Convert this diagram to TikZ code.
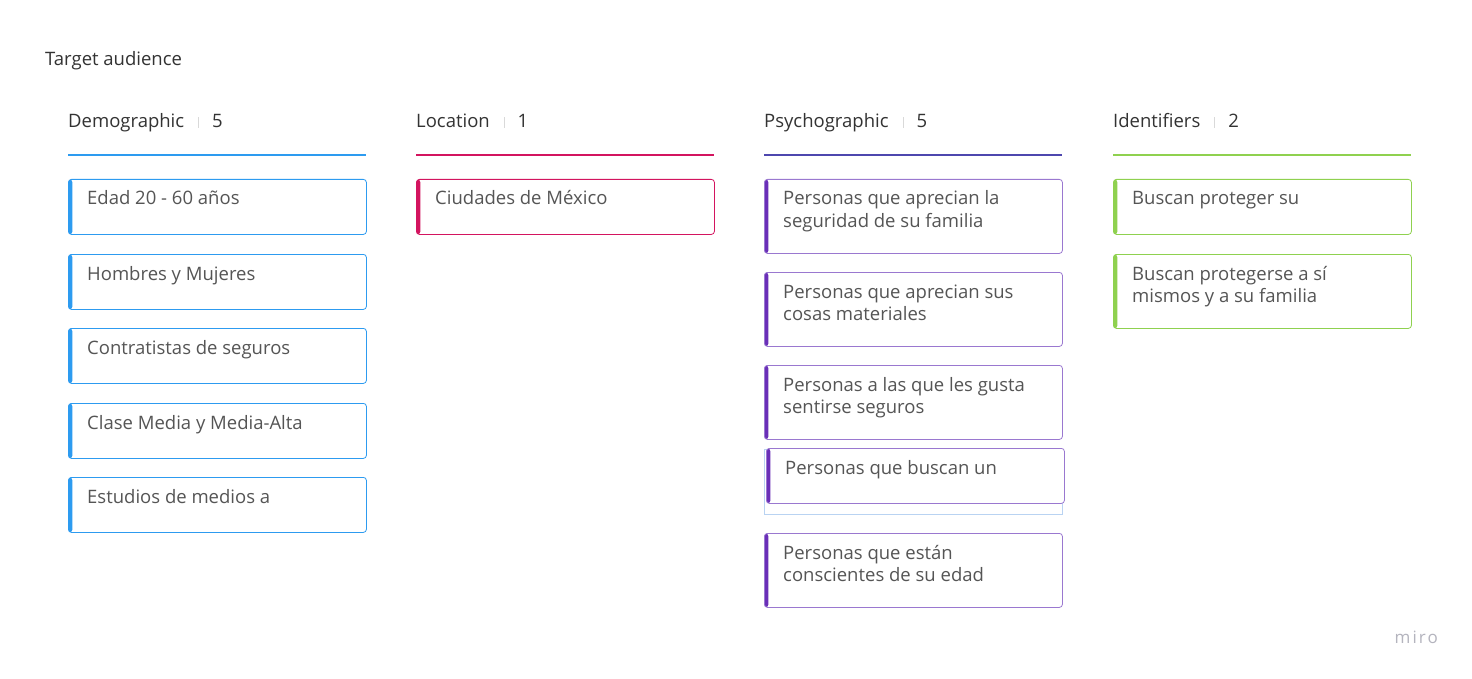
\documentclass[tikz,border=0pt]{standalone}
\usepackage{fontspec}
\setmainfont{Open Sans}
\usetikzlibrary{positioning}
\definecolor{demo}{HTML}{2D9BF0}
\definecolor{loc}{HTML}{D3145F}
\definecolor{psyline}{HTML}{4E47AE}
\definecolor{psy}{HTML}{6A2FB8}
\definecolor{psyborder}{HTML}{9A78D0}
\definecolor{ident}{HTML}{8FD14F}
\definecolor{ghost}{HTML}{B9D3F2}
\definecolor{headtxt}{HTML}{333333}
\definecolor{cardtxt}{HTML}{555555}
\definecolor{sepgray}{HTML}{D9D9D9}
\definecolor{logo}{HTML}{B4B4BE}
\newcommand{\sepbar}{{\color{sepgray}\rule[0pt]{0.9pt}{11pt}}}
\tikzset{
  head/.style={anchor=base west, inner sep=0pt, text=headtxt, font=\fontsize{18.5}{22}\selectfont},
  headline/.style={line width=2pt},
  card/.style={draw=#1, line width=0.8pt, fill=white, rounded corners=3pt,
    anchor=north west, minimum width=298pt, minimum height=55pt, inner sep=0pt,
    path picture={\fill[#1] (path picture bounding box.north west) rectangle ([xshift=4pt]path picture bounding box.south west);}},
  tall/.style={minimum height=74pt},
  cardtext/.style={anchor=base west, inner sep=0pt, align=left, text=cardtxt,
    font=\fontsize{18.5}{22}\selectfont}
}
\begin{document}
\begin{tikzpicture}[x=1pt, y=-1pt]
  \useasboundingbox[fill=white] (0,0) rectangle (1472,679);

  \node[head, anchor=base west] (title) at (45,66) {Target audience};

  % column headers
  \node[head] (hdemo) at (68,128) {Demographic\hspace{14pt}\sepbar\hspace{13pt}5};
  \node[head] (hloc) at (416,128) {Location\hspace{14pt}\sepbar\hspace{13pt}1};
  \node[head] (hpsy) at (764,128) {Psychographic\hspace{14pt}\sepbar\hspace{13pt}5};
  \node[head] (hid) at (1113,128) {Identifiers\hspace{14pt}\sepbar\hspace{13pt}2};
  \coordinate (ldemo) at (68,155);
  \coordinate (lloc) at (416,155);
  \coordinate (lpsy) at (764,155);
  \coordinate (lid) at (1113,155);
  \draw[headline, demo] (ldemo) -- ++(298,0);
  \draw[headline, loc] (lloc) -- ++(298,0);
  \draw[headline, psyline] (lpsy) -- ++(298,0);
  \draw[headline, ident] (lid) -- ++(298,0);

  % demographic
  \node[card=demo] (d1) at (68,179) {};
  \node[card=demo] (d2) at (68,254) {};
  \node[card=demo] (d3) at (68,328) {};
  \node[card=demo] (d4) at (68,403) {};
  \node[card=demo] (d5) at (68,477) {};
  \node[cardtext] at ([shift={(19,26)}]d1.north west) {Edad 20 - 60 años};
  \node[cardtext] at ([shift={(19,26)}]d2.north west) {Hombres y Mujeres};
  \node[cardtext] at ([shift={(19,26)}]d3.north west) {Contratistas de seguros};
  \node[cardtext] at ([shift={(19,26)}]d4.north west) {Clase Media y Media-Alta};
  \node[cardtext] at ([shift={(19,26)}]d5.north west) {Estudios de medios a};

  % location
  \node[card=loc] (l1) at (416,179) {};
  \node[cardtext] at ([shift={(19,26)}]l1.north west) {Ciudades de México};

  % psychographic (two-line texts sit on the baseline of their last line)
  \draw[ghost, line width=0.8pt] (764,449) rectangle (1062,514);
  \node[card=psy, draw=psyborder, tall] (p1) at (764,179) {};
  \node[card=psy, draw=psyborder, tall] (p2) at (764,272) {};
  \node[card=psy, draw=psyborder, tall] (p3) at (764,365) {};
  \node[card=psy, draw=psyborder] (p4) at (766,448) {};
  \node[card=psy, draw=psyborder, tall] (p5) at (764,533) {};
  \node[cardtext] at ([shift={(19,48)}]p1.north west) {Personas que aprecian la\\seguridad de su familia};
  \node[cardtext] at ([shift={(19,48)}]p2.north west) {Personas que aprecian sus\\cosas materiales};
  \node[cardtext] at ([shift={(19,48)}]p3.north west) {Personas a las que les gusta\\sentirse seguros};
  \node[cardtext] at ([shift={(19,26)}]p4.north west) {Personas que buscan un};
  \node[cardtext] at ([shift={(19,48)}]p5.north west) {Personas que están\\conscientes de su edad};

  % identifiers
  \node[card=ident] (i1) at (1113,179) {};
  \node[card=ident, tall] (i2) at (1113,254) {};
  \node[cardtext] at ([shift={(19,26)}]i1.north west) {Buscan proteger su};
  \node[cardtext] at ([shift={(19,48)}]i2.north west) {Buscan protegerse a sí\\mismos y a su familia};

  \node[anchor=base east, inner sep=0pt, text=logo, font=\fontsize{17}{20}\selectfont\addfontfeatures{LetterSpace=12}] (miro) at (1438,643) {miro};
\end{tikzpicture}
\end{document}
